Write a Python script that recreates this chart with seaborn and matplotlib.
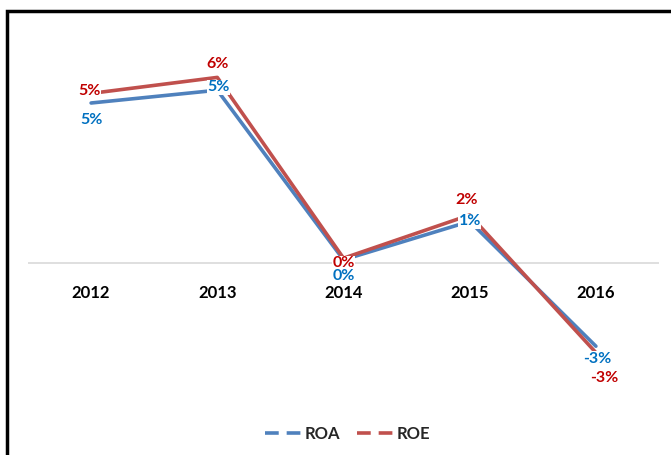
import pandas as pd
import matplotlib.pyplot as plt
import seaborn as sns
from matplotlib.lines import Line2D
from matplotlib.patches import Rectangle

# dados
anos = ['2012', '2013', '2014', '2015', '2016']
roa = [5.0, 5.4, 0.1, 1.3, -2.6]
roe = [5.3, 5.8, 0.15, 1.5, -2.8]

# offsets dos rótulos (pontos)
off_roa = [(0, -12), (1, 2), (0, -11.5), (0, 0), (1, -9)]
off_roe = [(-1, 2), (0, 10), (0, -3.5), (-2, 11), (6, -18)]

cor_roa, cor_roe = '#4f81bd', '#c0504d'
txt_roa, txt_roe = '#0070c0', '#c00000'

df = pd.DataFrame({'Ano': anos * 2,
                   'Valor': roa + roe,
                   'Serie': ['ROA'] * 5 + ['ROE'] * 5})

sns.set_theme(style='white')
plt.rcParams['font.family'] = ['Lato', 'DejaVu Sans']

fig = plt.figure(figsize=(6.71, 4.55), dpi=100)
ax = fig.add_axes([28 / 671, 1 - 391 / 455, 631 / 671, 352 / 455])

sns.lineplot(data=df, x='Ano', y='Valor', hue='Serie', palette=[cor_roa, cor_roe],
             linewidth=2.6, ax=ax, legend=False, sort=False)

ax.set_xlim(-0.5, 4.5)
ax.set_ylim(-4, 7)
ax.axhline(0, color='#d9d9d9', linewidth=1.2, zorder=0)
for s in ax.spines.values():
    s.set_visible(False)
ax.set_yticks([])
ax.set_xticks([])
ax.set_xlabel('')
ax.set_ylabel('')

# rótulos dos anos
for i, a in enumerate(anos):
    ax.annotate(a, (i, 0), xytext=(0, -15.5), textcoords='offset points',
                ha='center', va='top', fontsize=12, fontweight='bold', color='black')

# rótulos de dados
def rotulos(vals, offs, cor):
    for i, (v, o) in enumerate(zip(vals, offs)):
        ax.annotate(f'{round(v):.0f}%', (i, v), xytext=o, textcoords='offset points',
                    ha='center', va='center', fontsize=11.5, fontweight='bold', color=cor,
                    bbox=dict(boxstyle='square,pad=0.02', fc='white', ec='none'), zorder=5)

rotulos(roe, off_roe, txt_roe)
rotulos(roa, off_roa, txt_roa)

# legenda
handles = [Line2D([], [], color=cor_roa, lw=2.6, linestyle=(0, (3.8, 2.2))),
           Line2D([], [], color=cor_roe, lw=2.6, linestyle=(0, (3.8, 2.2)))]
fig.legend(handles, ['ROA', 'ROE'], loc='center', bbox_to_anchor=(0.518, 1 - 434 / 455),
           ncol=2, frameon=False, handlelength=2.2, handletextpad=0.2, columnspacing=1.0,
           prop={'size': 12, 'weight': 'bold'})

# moldura
fig.patches.append(Rectangle((7 / 671, -0.1), 1.2, 1 - 11 / 455 + 0.1, transform=fig.transFigure,
                             fill=False, ec='black', lw=2.5, zorder=10))

plt.savefig('out.png', dpi=100)
